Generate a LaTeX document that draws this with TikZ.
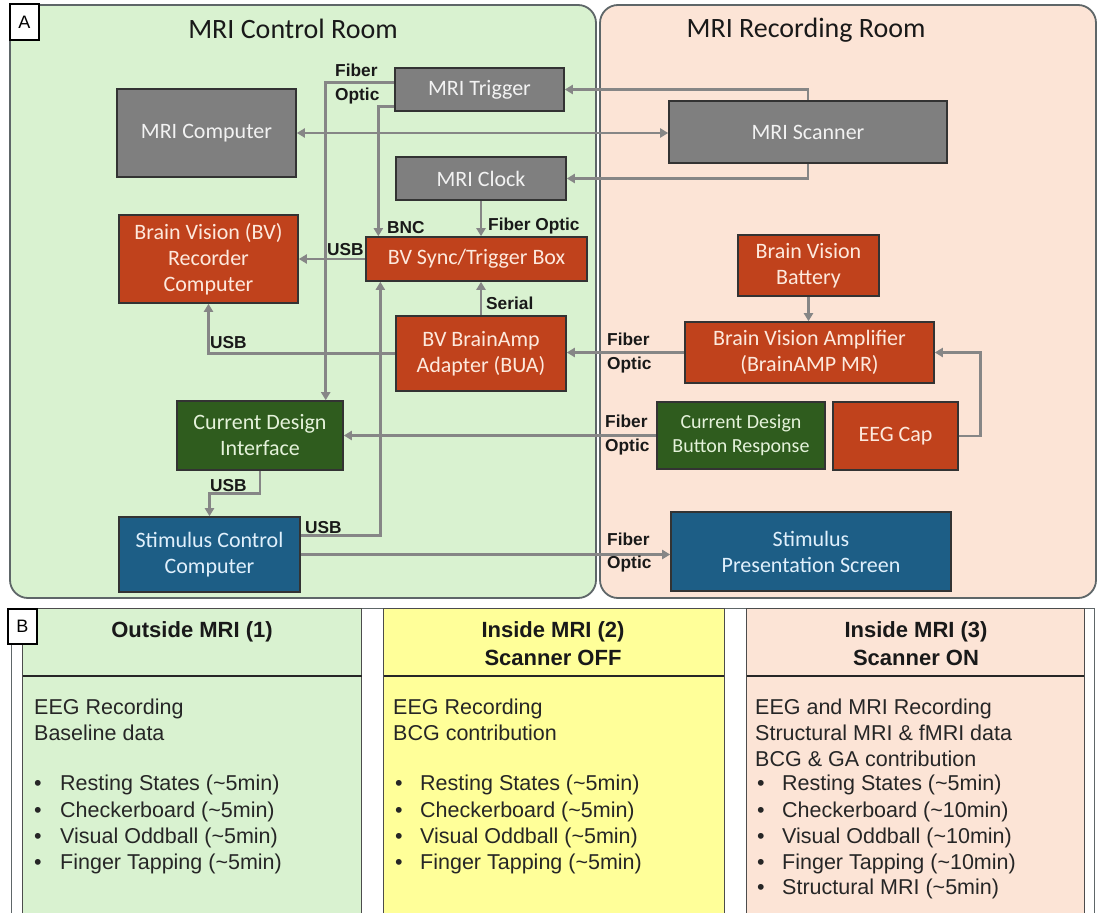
\documentclass[tikz,border=0pt]{standalone}
\usepackage{fontspec}
\setmainfont{Liberation Sans}
\newfontfamily\nodefont{Carlito}
\usetikzlibrary{arrows.meta,calc}
\definecolor{roomgreen}{HTML}{D9F2D0}
\definecolor{roompink}{HTML}{FCE4D6}
\definecolor{roomedge}{HTML}{5E6668}
\definecolor{boxgray}{HTML}{7F7F7F}
\definecolor{boxred}{HTML}{C0421C}
\definecolor{boxgreen}{HTML}{2F5C1E}
\definecolor{boxblue}{HTML}{1D5E86}
\definecolor{linegray}{HTML}{868686}
\definecolor{colyellow}{HTML}{FFFF99}
\definecolor{txtgray}{HTML}{F2F2F2}
\definecolor{txtred}{HTML}{FDE9DD}
\definecolor{txtgreen}{HTML}{E4F2DA}
\definecolor{txtblue}{HTML}{E0F0FC}
\newcommand\bodyln[3]{\node[btxt,anchor=base west] at (#1,#2) {#3};}
\newcommand\bulln[4]{\node[btxt,anchor=base west] at (#1,#3) {\textbullet};\node[btxt,anchor=base west] at (#2,#3) {#4};}
\begin{document}
\begin{tikzpicture}[x=1pt,y=-1pt,
  dev/.style={draw=black!80, line width=1.6pt, inner sep=0pt, align=center,
    font=\nodefont\fontsize{22}{26}\selectfont},
  gdev/.style={dev, fill=boxgray, text=txtgray},
  rdev/.style={dev, fill=boxred, text=txtred},
  ndev/.style={dev, fill=boxgreen, text=txtgreen},
  bdev/.style={dev, fill=boxblue, text=txtblue},
  conn/.style={draw=linegray, line width=2.8pt, -{Triangle[length=8pt,width=9pt]}},
  lbl/.style={font=\bfseries\fontsize{17.3}{23.5}\selectfont, inner sep=0pt, align=left, text=black!90},
  room/.style={draw=roomedge, line width=1.8pt, rounded corners=18pt},
  roomtitle/.style={font=\nodefont\fontsize{28}{32}\selectfont, text=black!90},
  tag/.style={draw=black, fill=white, line width=1.4pt, inner sep=0pt, font=\fontsize{18}{20}\selectfont},
  btxt/.style={font=\fontsize{21.5}{24}\selectfont, inner sep=0pt, text=black!85},
  htxt/.style={font=\bfseries\fontsize{22}{24}\selectfont, inner sep=0pt, text=black!90},
  colbox/.style={draw=black!70, line width=1pt}
]
\useasboundingbox (0,0) rectangle (1099,912);
\fill[white] (0,0) rectangle (1099,912);

% rooms
\draw[room, fill=roomgreen] (10,5) rectangle (596,598);
\draw[room, fill=roompink] (600,5) rectangle (1096,598);
\node[tag, minimum width=29pt, minimum height=36pt] (tagA) at (24.5,22) {A};
\node[roomtitle] (t1) at (293,29) {MRI Control Room};
\node[roomtitle] (t2) at (806,30) {MRI Recording Room};

% devices
\node[gdev, minimum width=169pt, minimum height=43pt] (trig) at (479.5,89.5) {MRI Trigger};
\node[gdev, minimum width=179pt, minimum height=88pt] (mcomp) at (206.5,133) {MRI Computer};
\node[gdev, minimum width=278pt, minimum height=62pt] (scan) at (808,132) {MRI Scanner};
\node[gdev, minimum width=170pt, minimum height=43pt] (clock) at (481,178.5) {MRI Clock};
\node[rdev, minimum width=221pt, minimum height=44pt] (sync) at (476.5,259) {BV Sync/Trigger Box};
\node[rdev, minimum width=179pt, minimum height=88pt] (rec) at (208.5,259) {Brain Vision (BV)\\Recorder\\Computer};
\node[rdev, minimum width=141pt, minimum height=61pt] (batt) at (808.5,265.5) {Brain Vision\\Battery};
\node[rdev, minimum width=170pt, minimum height=75pt] (bua) at (481,353.5) {BV BrainAmp\\Adapter (BUA)};
\node[ndev, minimum width=166pt, minimum height=69pt] (cdi) at (260,435.5) {Current Design\\Interface};
\node[bdev, minimum width=181pt, minimum height=75pt] (stimc) at (209.5,554.5) {Stimulus Control\\Computer};
\node[rdev, minimum width=249pt, minimum height=61pt] (amp) at (809.5,352.5) {Brain Vision Amplifier\\(BrainAMP MR)};
\node[ndev, minimum width=168pt, minimum height=67pt, font=\nodefont\fontsize{20}{24}\selectfont] (cdbr) at (741,435.5) {Current Design\\Button Response};
\node[rdev, minimum width=125pt, minimum height=68pt] (cap) at (895.5,436) {EEG Cap};
\node[bdev, minimum width=280pt, minimum height=79pt] (stimp) at (811,551.5) {Stimulus\\Presentation Screen};

% connectors
\draw[conn] (scan.north) |- (trig.east);
\draw[conn, {Triangle[length=8pt,width=9pt]}-{Triangle[length=8pt,width=9pt]}] (mcomp.east) -- (mcomp.east -| scan.west);
\draw[conn] (scan.south) |- (clock.east);
\draw[conn] ($(trig.north west)!0.35!(trig.south west)$) -| ($(cdi.north west)!0.892!(cdi.north east)$);
\draw[conn] ($(trig.north west)!0.88!(trig.south west)$) -| ($(sync.north west)!0.059!(sync.north east)$);
\draw[conn] (clock.south) -- (clock.south |- sync.north);
\draw[conn] (sync.west) -- (sync.west -| rec.east);
\draw[conn] (bua.north) -- (bua.north |- sync.south);
\draw[conn] (bua.west) -| (rec.south);
\draw[conn] (amp.west) -- (amp.west -| bua.east);
\draw[conn] (batt.south) -- (batt.south |- amp.north);
\draw[conn] (cap.east) -- ++(22,0) |- (amp.east);
\draw[conn] (cdbr.west) -- (cdbr.west -| cdi.east);
\draw[conn] (cdi.south) |- ($(cdi.south)!0.5!(stimc.north)$) -| (stimc.north);
\draw[conn] ($(stimc.north east)!0.253!(stimc.south east)$) -| ($(sync.south west)!0.068!(sync.south east)$);
\draw[conn] (stimc.east) -- (stimc.east -| stimp.west);

% connector labels
\node[lbl, anchor=west] (l1) at (335,84) {Fiber\\Optic};
\node[lbl, anchor=base west] (l2) at (387,233) {BNC};
\node[lbl, anchor=base west] (l3) at (488,230) {Fiber Optic};
\node[lbl, anchor=base west] (l4) at (327,255) {USB};
\node[lbl, anchor=base west] (l5) at (486,309) {Serial};
\node[lbl, anchor=base west] (l6) at (210,348) {USB};
\node[lbl, anchor=west] (l7) at (607,353) {Fiber\\Optic};
\node[lbl, anchor=west] (l8) at (605,435) {Fiber\\Optic};
\node[lbl, anchor=west] (l9) at (607,552.5) {Fiber\\Optic};
\node[lbl, anchor=base west] (l10) at (210,491) {USB};
\node[lbl, anchor=base west] (l11) at (305,533) {USB};

% panel B
\draw[draw=roomedge, line width=1pt] (11,930) -- (11,608) -- (1094,608) -- (1094,930);
\foreach \xa/\xb/\col in {22.5/361.5/roomgreen, 383.5/724/colyellow, 746.5/1084/roompink}{
  \fill[\col] (\xa,608) rectangle (\xb,930);
  \draw[colbox] (\xa,930) -- (\xa,608) -- (\xb,608) -- (\xb,930);
  \draw[black!85, line width=2pt] (\xa,675.5) -- (\xb,675.5);
}
\node[tag, minimum width=29pt, minimum height=35pt] (tagB) at (22.5,626.5) {B};

\node[htxt, anchor=base] (h1) at (192,637) {Outside MRI (1)};
\node[htxt, anchor=base] (h2) at (553,637) {Inside MRI (2)};
\node[htxt, anchor=base] (h3) at (553,665) {Scanner OFF};
\node[htxt, anchor=base] (h4) at (916,637) {Inside MRI (3)};
\node[htxt, anchor=base] (h5) at (916,665) {Scanner ON};

\bodyln{34}{714}{EEG Recording}
\bodyln{34}{740}{Baseline data}
\bulln{34}{60}{790}{Resting States (\textasciitilde5min)}
\bulln{34}{60}{817}{Checkerboard (\textasciitilde5min)}
\bulln{34}{60}{843}{Visual Oddball (\textasciitilde5min)}
\bulln{34}{60}{869}{Finger Tapping (\textasciitilde5min)}

\bodyln{393}{714}{EEG Recording}
\bodyln{393}{740}{BCG contribution}
\bulln{395}{420}{790}{Resting States (\textasciitilde5min)}
\bulln{395}{420}{817}{Checkerboard (\textasciitilde5min)}
\bulln{395}{420}{843}{Visual Oddball (\textasciitilde5min)}
\bulln{395}{420}{869}{Finger Tapping (\textasciitilde5min)}

\bodyln{755}{714}{EEG and MRI Recording}
\bodyln{755}{740}{Structural MRI \& fMRI data}
\bodyln{755}{766}{BCG \& GA contribution}
\bulln{757}{782}{790}{Resting States (\textasciitilde5min)}
\bulln{757}{782}{817}{Checkerboard (\textasciitilde10min)}
\bulln{757}{782}{843}{Visual Oddball (\textasciitilde10min)}
\bulln{757}{782}{869}{Finger Tapping (\textasciitilde10min)}
\bulln{757}{782}{894}{Structural MRI (\textasciitilde5min)}
\end{tikzpicture}
\end{document}
